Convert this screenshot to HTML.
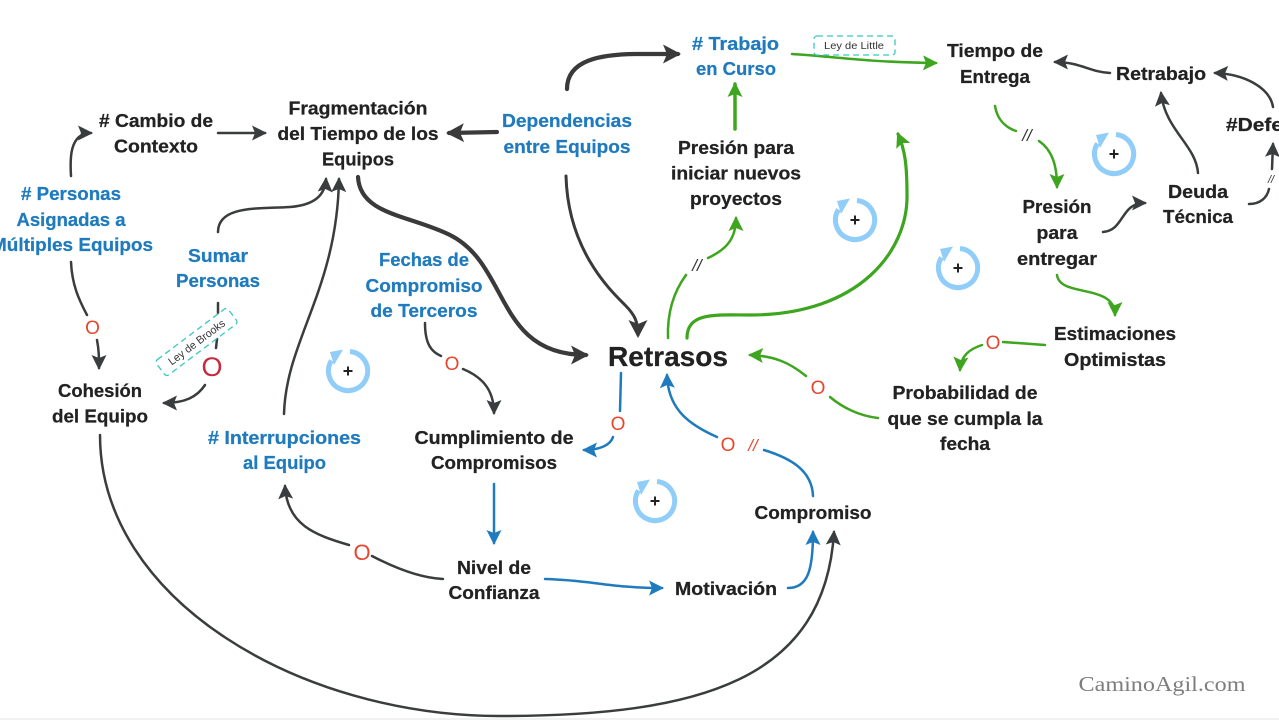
<!DOCTYPE html>
<html lang="es"><head><meta charset="utf-8"><title>Retrasos</title>
<style>
html,body{margin:0;padding:0;background:#fff;width:1279px;height:720px;overflow:hidden}
svg{display:block;position:absolute;left:0;top:0}
text{font-family:"Liberation Sans",sans-serif;font-weight:bold;font-size:18.5px;text-anchor:middle;fill:#222;stroke:#222;stroke-width:.25}
.b text{fill:#1f7bbd;stroke:#1f7bbd}
.c{fill:none;stroke-linecap:round}
.d{stroke:#3a3d3e;stroke-width:2.5}
.dm{stroke:#3a3a3a;stroke-width:3}
.dt{stroke:#3a3a3a;stroke-width:4.2}
.bl{stroke:#1f7bbd;stroke-width:2.5}
.g{stroke:#3da51e;stroke-width:2.5}
.gm{stroke:#3da51e;stroke-width:3.5}
.gt{stroke:#3da51e;stroke-width:3.2}
text.o{font-weight:normal;fill:#e5472e;stroke:none;font-size:19px}
text.s{font-weight:normal;font-style:italic;fill:#333;stroke:none;font-size:17px}
text.n{font-weight:normal;fill:#333;stroke:none}
</style></head><body>
<svg width="1279" height="720" viewBox="0 0 1279 720" xmlns="http://www.w3.org/2000/svg">
<defs>
<marker id="md" markerUnits="userSpaceOnUse" markerWidth="30" markerHeight="30" refX="13" refY="15" orient="auto" overflow="visible"><path d="M0 7.5 L15 15 L0 22.5 L3 15z" fill="#3a3d3e"/></marker>
<marker id="mt" markerUnits="userSpaceOnUse" markerWidth="36" markerHeight="36" refX="15" refY="18" orient="auto" overflow="visible"><path d="M0 8.500 L18 18 L0 27.500 L4 18z" fill="#3a3a3a"/></marker>
<marker id="mb" markerUnits="userSpaceOnUse" markerWidth="30" markerHeight="30" refX="13" refY="15" orient="auto" overflow="visible"><path d="M0 7.5 L15 15 L0 22.5 L3 15z" fill="#1f7bbd"/></marker>
<marker id="mg" markerUnits="userSpaceOnUse" markerWidth="30" markerHeight="30" refX="13" refY="15" orient="auto" overflow="visible"><path d="M0 7.5 L15 15 L0 22.5 L3 15z" fill="#3da51e"/></marker>
<g id="loop">
<path d="M2 -19.5 A19.6 19.6 0 1 1 -16.5 -10.5" fill="none" stroke="#90cdf9" stroke-width="5"/>
<path d="M-5 -21.5 L-18 -19 L-14 -6z" fill="#90cdf9"/>
<path d="M-4.500 0H4.500M0 -4.500V4.500" stroke="#222" stroke-width="2"/>
</g>
</defs>

<!-- dark connectors -->
<path class="c d" marker-end="url(#md)" d="M71 176 C70 160 69 133 91 133"/>
<path class="c d" marker-end="url(#md)" d="M218 133 L265 133"/>
<path class="c d" d="M71 262 C72 285 79 300 87 315"/>
<path class="c d" marker-end="url(#md)" d="M97 340 C99 350 99 358 99 368"/>
<path class="c d" marker-end="url(#md)" d="M218 232 C218 205 260 209 290 207 C315 205 325 195 326 179"/>
<path class="c d" marker-end="url(#md)" d="M284 414 C286 340 337 290 339 179"/>
<path class="c d" d="M218 303 L218 313"/>
<path class="c d" d="M217 339 L216 348"/>
<path class="c d" marker-end="url(#md)" d="M205 385 C197 397 185 403 164 403"/>
<path class="c dt" marker-end="url(#mt)" d="M358 177 C360 215 410 215 450 235 C510 265 495 355 586 355"/>
<path class="c dt" marker-end="url(#mt)" d="M497 132 L449 133"/>
<path class="c dt" marker-end="url(#mt)" d="M567 89 C567 60 600 54 640 54 L678 54"/>
<path class="c dm" marker-end="url(#mt)" d="M566 176 C568 250 610 290 625 305 C635 315 638 322 638 335"/>
<path class="c d" d="M425 323 C425 345 432 352 441 356"/>
<path class="c d" marker-end="url(#md)" d="M463 369 C480 376 494 388 494 413"/>
<path class="c d" d="M443 579 C420 578 395 568 372 556"/>
<path class="c d" marker-end="url(#md)" d="M349 545 C315 535 287 525 285 486"/>
<path class="c d" marker-end="url(#md)" d="M100 435 C100 600 300 716 500 716 C700 716 825 680 834 532"/>
<path class="c d" marker-end="url(#md)" d="M1110 73 C1090 72 1080 62 1055 62"/>
<path class="c d" marker-end="url(#md)" d="M1273 107 C1270 88 1245 74 1215 73"/>
<path class="c d" marker-end="url(#md)" d="M1198 173 C1196 145 1165 130 1161 93"/>
<path class="c d" d="M1249 204 C1260 204 1267 198 1269 189"/>
<path class="c d" marker-end="url(#md)" d="M1272 169 L1273 144"/>
<path class="c d" marker-end="url(#md)" d="M1103 232 C1125 230 1120 203 1145 203"/>

<!-- green connectors -->
<path class="c gm" marker-end="url(#mg)" d="M735 129 L735 84"/>
<path class="c g" d="M668 338 C667 310 675 290 686 275"/>
<path class="c g" marker-end="url(#mg)" d="M708 258 C725 250 736 240 736 218"/>
<path class="c gt" marker-end="url(#mg)" d="M687 338 C687 312 715 315 750 315 C860 315 908 250 907 195 C907 165 905 150 898 134"/>
<path class="c g" marker-end="url(#mg)" d="M792 54 C830 56 860 62 936 63"/>
<path class="c g" d="M995 106 C997 118 1004 127 1016 131"/>
<path class="c g" marker-end="url(#mg)" d="M1039 141 C1052 150 1057 165 1057 187"/>
<path class="c g" marker-end="url(#mg)" d="M1057 275 C1060 298 1115 283 1115 315"/>
<path class="c g" d="M1045 345 L1003 342"/>
<path class="c g" marker-end="url(#mg)" d="M982 345 C970 349 961 355 960 370"/>
<path class="c g" d="M878 418 C860 416 843 408 830 397"/>
<path class="c g" marker-end="url(#mg)" d="M806 376 C790 363 775 356 750 355"/>

<!-- blue connectors -->
<path class="c bl" d="M621 373 L620 411"/>
<path class="c bl" marker-end="url(#mb)" d="M613 437 C610 446 598 450 584 450"/>
<path class="c bl" d="M813 496 C812 470 790 458 764 450"/>
<path class="c bl" marker-end="url(#mb)" d="M717 437 C690 425 668 410 667 375"/>
<path class="c bl" marker-end="url(#mb)" d="M494 484 L494 543"/>
<path class="c bl" marker-end="url(#mb)" d="M545 579 C590 580 610 588 662 588"/>
<path class="c bl" marker-end="url(#mb)" d="M788 588 C808 588 813 570 813 532"/>

<!-- loop icons -->
<use href="#loop" x="348" y="371"/>
<use href="#loop" x="855" y="220"/>
<use href="#loop" x="958" y="268"/>
<use href="#loop" x="1114" y="154"/>
<use href="#loop" x="655" y="501"/>

<!-- note tags -->
<rect x="814" y="36" width="81" height="19" rx="3" fill="none" stroke="#35c9c1" stroke-width="1.3" stroke-dasharray="6 4"/>
<text class="n" x="854" y="49" textLength="60" lengthAdjust="spacingAndGlyphs" style="font-size:10.5px">Ley de Little</text>
<g transform="translate(196.5 342) rotate(-37)">
<rect x="-45" y="-9.5" width="90" height="19" rx="3" fill="#fff" fill-opacity=".6" stroke="#35c9c1" stroke-width="1.3" stroke-dasharray="6 4"/>
<text class="n" x="0" y="4" textLength="68" lengthAdjust="spacingAndGlyphs" style="font-size:11px">Ley de Brooks</text>
</g>

<!-- polarity marks -->
<text class="o" x="92.500" y="334">O</text>
<text class="o" x="212" y="376" style="font-size:27px;fill:#c8283c">O</text>
<text class="o" x="452" y="370">O</text>
<text class="o" x="362" y="560" style="font-size:22px">O</text>
<text class="o" x="618" y="430">O</text>
<text class="o" x="728" y="451">O</text>
<text class="o" x="753" y="451" style="font-style:italic;font-size:17px">//</text>
<text class="o" x="818" y="394">O</text>
<text class="o" x="993" y="349">O</text>
<text class="s" x="697" y="271">//</text>
<text class="s" x="1027" y="141">//</text>
<text class="s" x="1271" y="183" style="font-size:11px">//</text>

<!-- dark labels -->
<text x="156" y="127" textLength="114" lengthAdjust="spacingAndGlyphs"># Cambio de</text>
<text x="156" y="152.500" textLength="84" lengthAdjust="spacingAndGlyphs">Contexto</text>
<text x="358" y="114.500" textLength="139" lengthAdjust="spacingAndGlyphs">Fragmentación</text>
<text x="358" y="140" textLength="161" lengthAdjust="spacingAndGlyphs">del Tiempo de los</text>
<text x="358" y="165.500" textLength="72" lengthAdjust="spacingAndGlyphs">Equipos</text>
<text x="995" y="57" textLength="96" lengthAdjust="spacingAndGlyphs">Tiempo de</text>
<text x="995" y="83" textLength="70" lengthAdjust="spacingAndGlyphs">Entrega</text>
<text x="1161" y="80" textLength="90" lengthAdjust="spacingAndGlyphs">Retrabajo</text>
<text x="1226" y="131" textLength="100" lengthAdjust="spacingAndGlyphs" style="text-anchor:start">#Defectos</text>
<text x="1198" y="198" textLength="60" lengthAdjust="spacingAndGlyphs">Deuda</text>
<text x="1198" y="223" textLength="70" lengthAdjust="spacingAndGlyphs">Técnica</text>
<text x="1057" y="213" textLength="69" lengthAdjust="spacingAndGlyphs">Presión</text>
<text x="1057" y="239" textLength="41" lengthAdjust="spacingAndGlyphs">para</text>
<text x="1057" y="265" textLength="80" lengthAdjust="spacingAndGlyphs">entregar</text>
<text x="1115" y="340" textLength="122" lengthAdjust="spacingAndGlyphs">Estimaciones</text>
<text x="1115" y="366" textLength="102" lengthAdjust="spacingAndGlyphs">Optimistas</text>
<text x="965" y="399" textLength="145" lengthAdjust="spacingAndGlyphs">Probabilidad de</text>
<text x="965" y="425" textLength="155" lengthAdjust="spacingAndGlyphs">que se cumpla la</text>
<text x="965" y="450" textLength="50" lengthAdjust="spacingAndGlyphs">fecha</text>
<text x="736" y="154" textLength="116" lengthAdjust="spacingAndGlyphs">Presión para</text>
<text x="736" y="179.500" textLength="130" lengthAdjust="spacingAndGlyphs">iniciar nuevos</text>
<text x="736" y="205" textLength="92" lengthAdjust="spacingAndGlyphs">proyectos</text>
<text x="668" y="366" textLength="120" lengthAdjust="spacingAndGlyphs" style="font-size:28px">Retrasos</text>
<text x="100" y="397" textLength="84" lengthAdjust="spacingAndGlyphs">Cohesión</text>
<text x="100" y="422.500" textLength="96" lengthAdjust="spacingAndGlyphs">del Equipo</text>
<text x="494" y="444" textLength="159" lengthAdjust="spacingAndGlyphs">Cumplimiento de</text>
<text x="494" y="469" textLength="126" lengthAdjust="spacingAndGlyphs">Compromisos</text>
<text x="494" y="574" textLength="74" lengthAdjust="spacingAndGlyphs">Nivel de</text>
<text x="494" y="599" textLength="91" lengthAdjust="spacingAndGlyphs">Confianza</text>
<text x="726" y="595" textLength="102" lengthAdjust="spacingAndGlyphs">Motivación</text>
<text x="813" y="519" textLength="117" lengthAdjust="spacingAndGlyphs">Compromiso</text>

<!-- blue labels -->
<g class="b">
<text x="567" y="127" textLength="130" lengthAdjust="spacingAndGlyphs">Dependencias</text>
<text x="567" y="153" textLength="127" lengthAdjust="spacingAndGlyphs">entre Equipos</text>
<text x="735.500" y="50" textLength="87" lengthAdjust="spacingAndGlyphs"># Trabajo</text>
<text x="736" y="75" textLength="80" lengthAdjust="spacingAndGlyphs">en Curso</text>
<text x="71" y="200" textLength="100" lengthAdjust="spacingAndGlyphs"># Personas</text>
<text x="71" y="226" textLength="109" lengthAdjust="spacingAndGlyphs">Asignadas a</text>
<text x="72" y="251" textLength="162" lengthAdjust="spacingAndGlyphs">Múltiples Equipos</text>
<text x="218" y="262" textLength="60" lengthAdjust="spacingAndGlyphs">Sumar</text>
<text x="218" y="287" textLength="84" lengthAdjust="spacingAndGlyphs">Personas</text>
<text x="424" y="266" textLength="90" lengthAdjust="spacingAndGlyphs">Fechas de</text>
<text x="424" y="292" textLength="117" lengthAdjust="spacingAndGlyphs">Compromiso</text>
<text x="424" y="317" textLength="107" lengthAdjust="spacingAndGlyphs">de Terceros</text>
<text x="284.500" y="444" textLength="153" lengthAdjust="spacingAndGlyphs"># Interrupciones</text>
<text x="284.500" y="469" textLength="83" lengthAdjust="spacingAndGlyphs">al Equipo</text>
</g>

<text x="1162" y="691" textLength="167" lengthAdjust="spacingAndGlyphs" style="font-family:'Liberation Serif',serif;font-weight:normal;font-size:21px;fill:#7d7d7d;stroke:none">CaminoAgil.com</text>
<rect x="0" y="718" width="1279" height="2" fill="#f1f1f1"/>
</svg>
</body></html>
